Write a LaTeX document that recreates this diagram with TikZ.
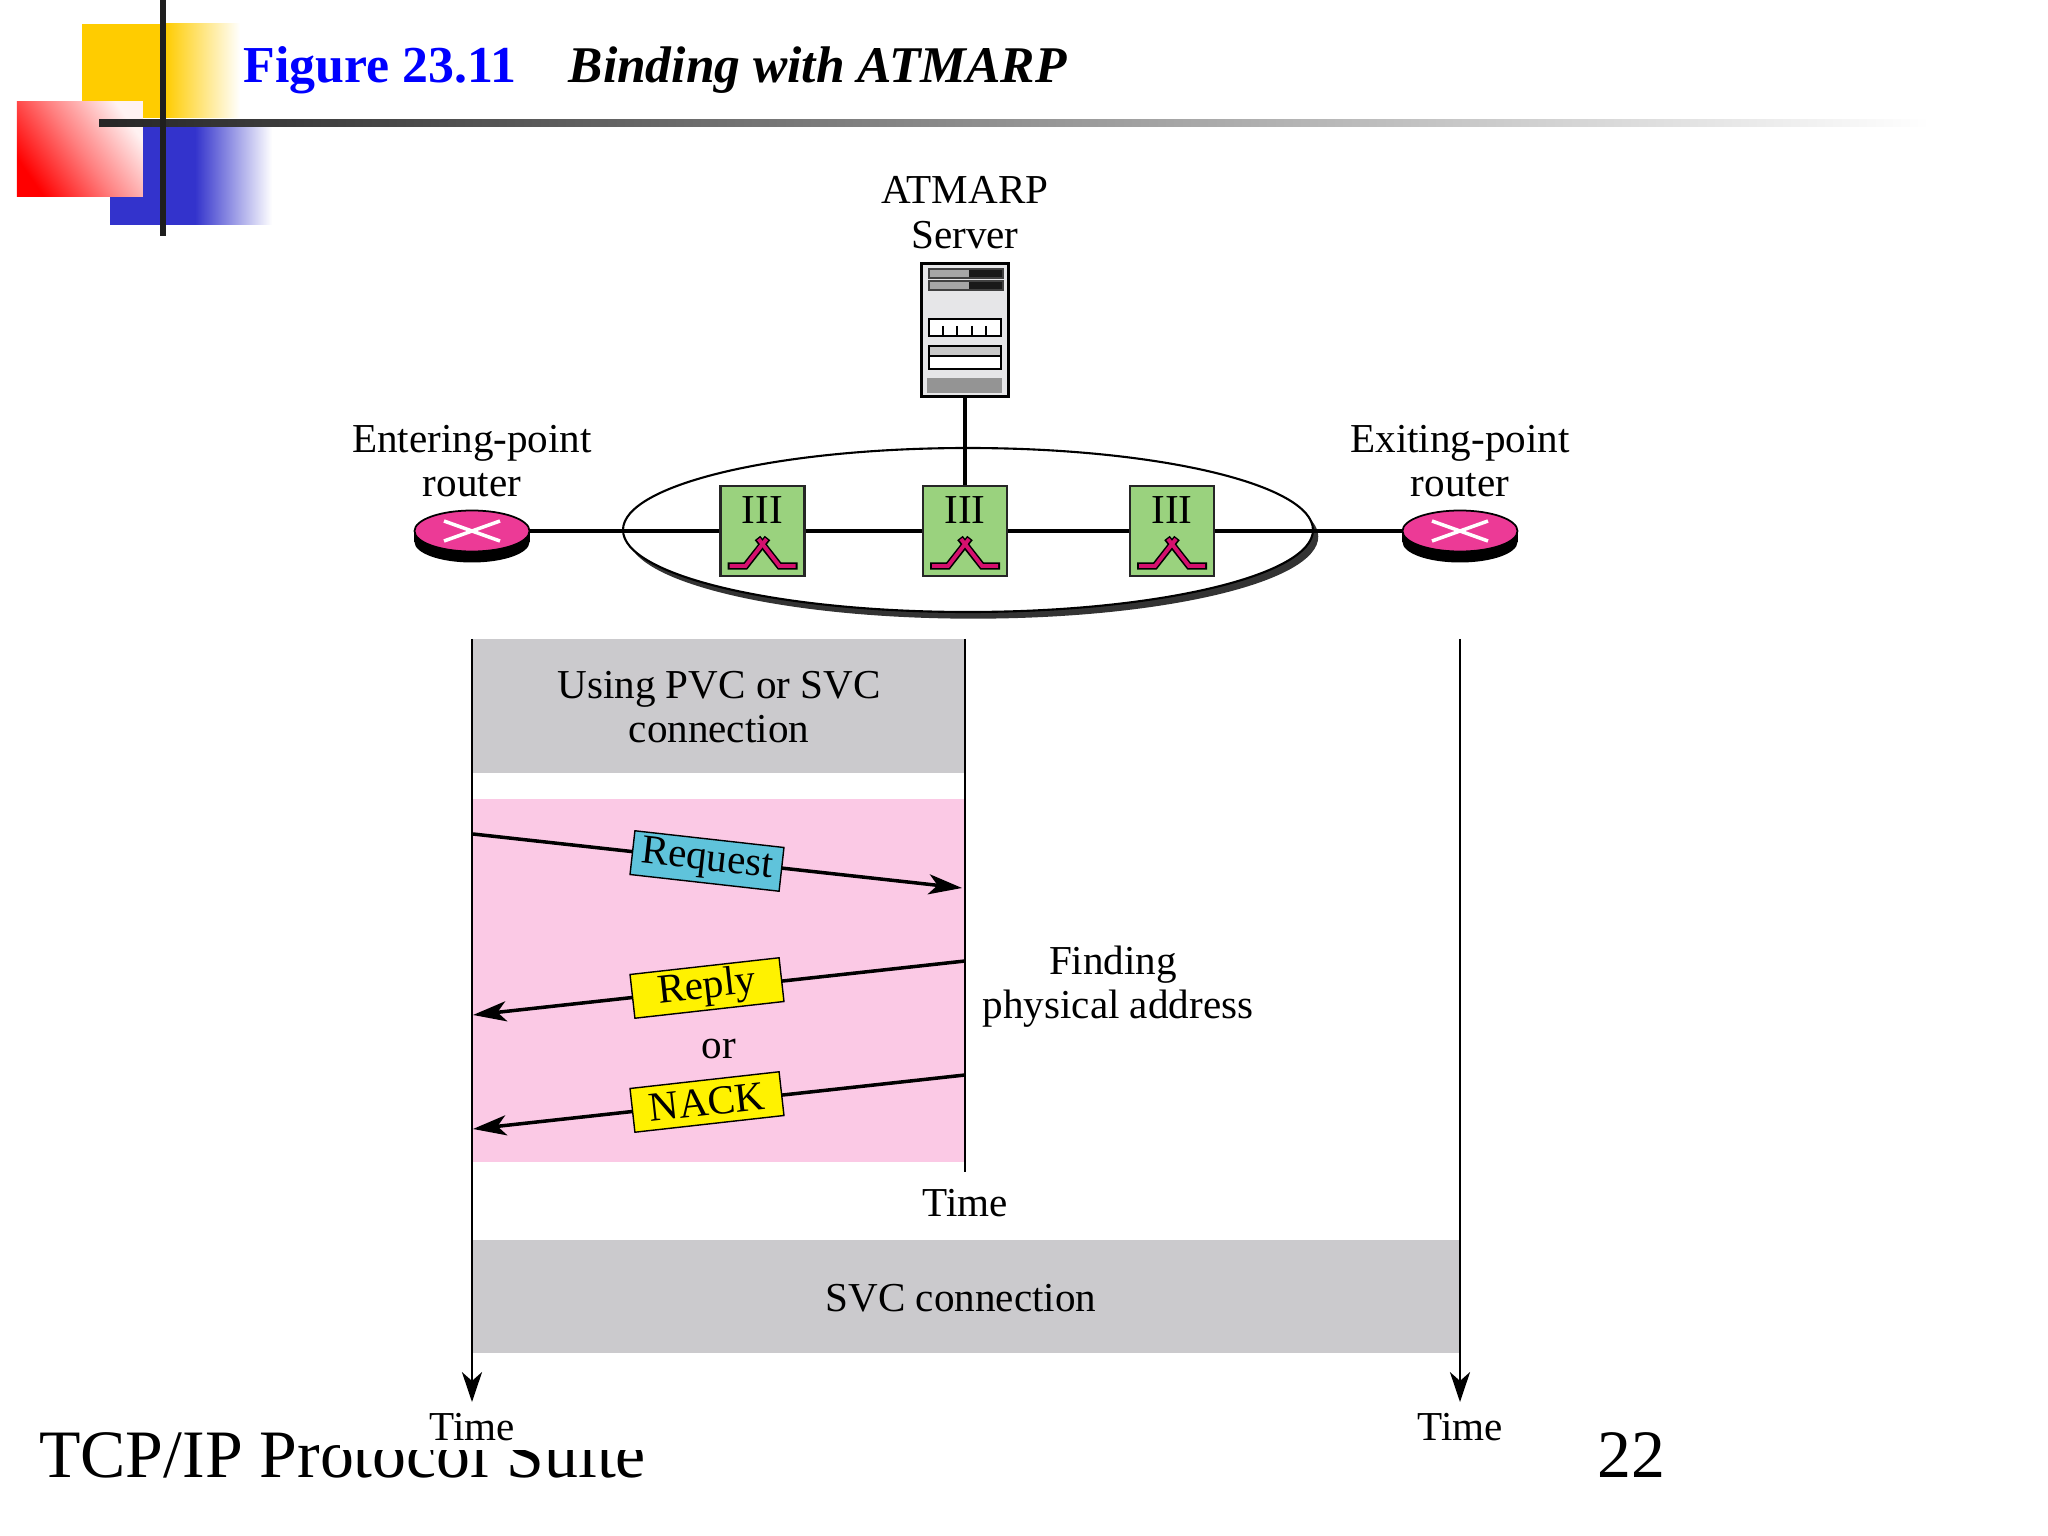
\documentclass[tikz,border=0pt]{standalone}
\usepackage{fontspec}
\setmainfont{Liberation Serif}
\usetikzlibrary{positioning,arrows.meta,calc,shadows,shapes.geometric}
\definecolor{atmYellow}{RGB}{255,204,0}
\definecolor{atmBlue}{RGB}{51,51,204}
\definecolor{atmGray}{RGB}{203,202,205}
\definecolor{atmPink}{RGB}{251,201,229}
\definecolor{atmRouter}{RGB}{236,58,150}
\definecolor{atmGreen}{RGB}{154,210,126}
\definecolor{atmSwitch}{RGB}{213,16,110}
\definecolor{atmCyan}{RGB}{95,195,219}
\definecolor{atmCase}{RGB}{230,230,232}
\tikzset{
  lbl/.style={font=\fontsize{11.7}{12.6}\selectfont, align=center, inner sep=0pt},
  footer/.style={font=\fontsize{19.3}{22}\selectfont, anchor=base west, inner sep=0pt},
  routertop/.style={ellipse, draw=black, line width=.5pt, fill=atmRouter, minimum width=1.15cm, minimum height=.41cm, inner sep=0pt},
  routerbase/.style={ellipse, fill=black, minimum width=1.15cm, minimum height=.41cm, inner sep=0pt},
  switchbox/.style={draw=black!85, line width=.8pt, fill=atmGreen, minimum width=.84cm, minimum height=.9cm, inner sep=0pt},
  msgbox/.style={lbl, draw=black, line width=.4pt, minimum width=1.5cm, minimum height=.44cm},
  wire/.style={line width=1.05pt},
  timeline/.style={line width=.8pt},
  msg/.style={line width=1pt, -{Stealth[length=9.5pt,width=5.7pt,inset=2.5pt]}}
}
\begin{document}
\begin{tikzpicture}[y=-1cm]
  \useasboundingbox (0,0) rectangle (20.48,15.36);
  % logo
  \fill[atmYellow] (.82,.24) rectangle (1.65,1.18);
  \shade[left color=atmYellow, right color=white] (1.65,.24) rectangle (2.4,1.18);
  \fill[atmBlue] (1.1,1.27) rectangle (1.95,2.25);
  \shade[left color=atmBlue, right color=white] (1.95,1.27) rectangle (2.72,2.25);
  \shade[bottom color=red, top color=red!5!white, middle color=red!50!white, shading angle=-55] (.17,1.02) rectangle (1.43,1.97);
  \shade[left color=black!85, right color=white] (.99,1.195) rectangle (19.3,1.27);
  \fill[black!88] (1.595,0) rectangle (1.66,2.36);
  \node[anchor=base west, inner sep=0pt, font=\fontsize{14.75}{16}\selectfont\bfseries, text=blue] (fignum) at (2.43,.83) {Figure 23.11};
  \node[anchor=base west, inner sep=0pt, font=\fontsize{14.65}{16}\selectfont\bfseries\itshape] (figtitle) at (5.68,.83) {Binding with ATMARP};

  % footer, cut off by the white of the figure
  \node[footer] (course) at (.385,14.77) {TCP/IP Protocol Suite};
  \node[footer] (page) at (15.97,14.77) {22};
  \fill[white] (3.4,14.1) rectangle (7,14.5);

  % network
  \node[lbl] (atmlbl) at (9.65,2.125) {ATMARP\\Server};
  \node[lbl] (entlbl) at (4.72,4.61) {Entering-point\\router};
  \node[lbl] (exilbl) at (14.6,4.61) {Exiting-point\\router};
  \node[ellipse, draw=black, line width=.6pt, fill=white, minimum width=6.9cm, minimum height=1.64cm,
    drop shadow={opacity=1, fill=black!80, shadow xshift=1.5pt, shadow yshift=-1.9pt}] (cloud) at (9.68,5.3) {};

  \node[routerbase] (basel) at (4.72,5.42) {};
  \node[routerbase] (baser) at (14.6,5.42) {};
  \fill ($(basel.west)+(0,-.11)$) rectangle (basel.east);
  \fill ($(baser.west)+(0,-.11)$) rectangle (baser.east);
  \node[routertop] (routerl) at (4.72,5.31) {};
  \node[routertop] (routerr) at (14.6,5.31) {};
  \foreach \rt in {routerl,routerr} {
    \draw[white, line width=1pt] ($(\rt)+(-.28,-.1)$) -- ($(\rt)+(.28,.1)$);
    \draw[white, line width=1pt] ($(\rt)+(-.28,.1)$) -- ($(\rt)+(.28,-.1)$);
  }

  \node[switchbox] (boxa) at (7.625,5.31) {};
  \node[switchbox] (boxb) at (9.65,5.31) {};
  \node[switchbox] (boxc) at (11.72,5.31) {};
  \draw[wire] (routerl) -- (boxa);
  \draw[wire] (boxa) -- (boxb);
  \draw[wire] (boxb) -- (boxc);
  \draw[wire] (boxc) -- (routerr);
  \foreach \sw in {boxa,boxb,boxc} {
    \node[lbl] at ($(\sw)+(0,-.21)$) {III};
    \draw[line width=2pt] ($(\sw)+(-.35,.35)$) -- ++(.18,0) -- ($(\sw)+(.05,.07)$);
    \draw[line width=2pt] ($(\sw)+(.35,.35)$) -- ++(-.18,0) -- ($(\sw)+(-.05,.07)$);
    \draw[atmSwitch, line width=1.1pt] ($(\sw)+(-.33,.35)$) -- ++(.16,0) -- ($(\sw)+(.04,.08)$);
    \draw[atmSwitch, line width=1.1pt] ($(\sw)+(.33,.35)$) -- ++(-.16,0) -- ($(\sw)+(-.04,.08)$);
  }

  % server
  \node[draw=black, line width=.85pt, fill=atmCase, minimum width=.87cm, minimum height=1.33cm, inner sep=0pt] (server) at (9.65,3.3) {};
  \draw[wire] (server) -- (boxb);
  \foreach \slot in {2.69,2.81} {
    \fill[black!35] (9.29,\slot) rectangle (9.69,\slot+.09);
    \fill[black!90] (9.69,\slot) rectangle (10.03,\slot+.09);
    \draw[black!75, line width=.5pt] (9.29,\slot) rectangle (10.03,\slot+.09);
  }
  \draw[fill=white, line width=.5pt] (9.29,3.19) rectangle (10.01,3.36);
  \foreach \tick in {9.43,9.57,9.72,9.86} \draw[line width=.4pt] (\tick,3.26) -- (\tick,3.36);
  \draw[fill=black!22, line width=.5pt] (9.29,3.46) rectangle (10.01,3.56);
  \draw[fill=white, line width=.5pt] (9.29,3.56) rectangle (10.01,3.69);
  \fill[black!42] (9.27,3.78) rectangle (10.02,3.93);

  % time bands
  \fill[atmGray] (4.73,6.39) rectangle (9.65,7.73);
  \fill[atmPink] (4.73,7.99) rectangle (9.65,11.62);
  \fill[atmGray] (4.73,12.4) rectangle (14.59,13.53);
  \coordinate (tlatop) at (4.72,6.39);
  \coordinate (tlaend) at (4.72,14.02);
  \coordinate (tlbtop) at (9.65,6.39);
  \coordinate (tlbend) at (9.65,11.72);
  \coordinate (tlctop) at (14.6,6.39);
  \coordinate (tlcend) at (14.6,14.02);
  \draw[timeline, -{Stealth[length=8.5pt,width=5.7pt,inset=2.5pt]}] (tlatop) -- (tlaend);
  \draw[timeline] (tlbtop) -- (tlbend);
  \draw[timeline, -{Stealth[length=8.5pt,width=5.7pt,inset=2.5pt]}] (tlctop) -- (tlcend);

  \node[lbl] (pvclbl) at (7.19,7.07) {Using PVC or SVC\\connection};
  \node[lbl] (findlbl) at (11.13,9.87) {Finding\\\hspace*{.1cm}physical address};
  \node[lbl, anchor=base] (timeb) at (9.655,12.16) {Time};
  \node[lbl, anchor=base] (svclbl) at (9.61,13.11) {SVC connection};
  \node[lbl, anchor=base] (timea) at (4.72,14.4) {Time};
  \node[lbl, anchor=base] (timec) at (14.6,14.4) {Time};

  % messages
  \coordinate (reqa) at (4.73,8.34);
  \coordinate (reqb) at (9.62,8.88);
  \coordinate (repa) at (9.65,9.61);
  \coordinate (repb) at (4.73,10.15);
  \coordinate (naka) at (9.65,10.75);
  \coordinate (nakb) at (4.73,11.29);
  \draw[msg] (reqa) -- (reqb);
  \draw[msg] (repa) -- (repb);
  \draw[msg] (naka) -- (nakb);
  \node[msgbox, fill=atmCyan, rotate=-6.4] (request) at (7.07,8.61) {Request};
  \node[msgbox, fill=yellow, rotate=6.4] (reply) at (7.07,9.88) {Reply};
  \node[msgbox, fill=yellow, rotate=6.4] (nack) at (7.07,11.02) {NACK};
  \node[lbl, anchor=base] (orlbl) at (7.19,10.58) {or};
\end{tikzpicture}
\end{document}
